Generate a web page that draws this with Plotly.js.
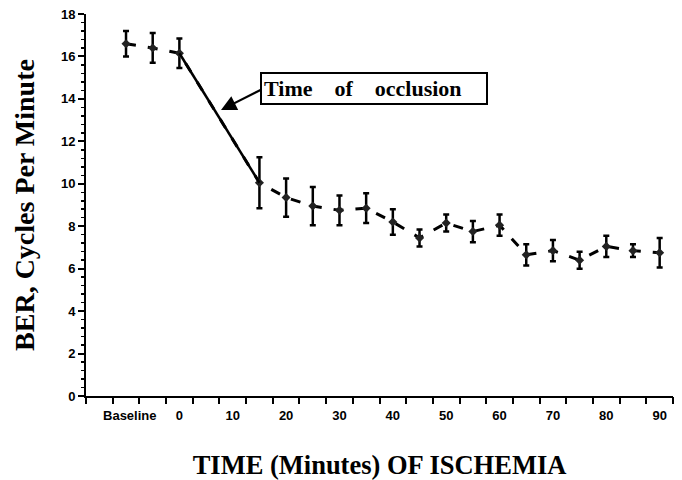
<!DOCTYPE html>
<html>
<head>
<meta charset="utf-8">
<script src="https://cdn.plot.ly/plotly-3.0.1.min.js"></script>
<style>
html,body{margin:0;padding:0;background:#fff;}
#chart{width:682px;height:480px;}
</style>
</head>
<body>
<div id="chart"></div>
<script>
// Time points (minutes); baseline samples placed before 0
const times = [-10, -5, 0, 15, 20, 25, 30, 35, 40, 45, 50, 55, 60, 65, 70, 75, 80, 85, 90];
const ber   = [16.6, 16.4, 16.15, 10.05, 9.35, 8.95, 8.75, 8.85, 8.2, 7.45, 8.15, 7.75, 8.05, 6.65, 6.85, 6.4, 7.05, 6.85, 6.75];
const errs  = [0.6, 0.7, 0.7, 1.2, 0.9, 0.9, 0.7, 0.7, 0.6, 0.4, 0.4, 0.5, 0.5, 0.5, 0.5, 0.4, 0.5, 0.3, 0.7];
const occlusionTimes = [0, 15];
const occlusionBer = [16.15, 10.05];
const tickVals = [-9.3, 0, 10, 20, 30, 40, 50, 60, 70, 80, 90];
const tickText = ["Baseline", "0", "10", "20", "30", "40", "50", "60", "70", "80", "90"];
const slotEdges = [-17.5, -12.5, -7.5, -2.5, 2.5, 7.5, 12.5, 17.5, 22.5, 27.5, 32.5, 37.5, 42.5, 47.5, 52.5, 57.5, 62.5, 67.5, 72.5, 77.5, 82.5, 87.5, 92.5];

const serif = "'Liberation Serif', 'Times New Roman', Times, serif";
const sans = "'Liberation Sans', Arial, Helvetica, sans-serif";
const nb = '\u00A0';

const traces = [
  {
    x: times, y: ber, type: 'scatter', mode: 'lines+markers',
    line: {color: '#000', width: 3, dash: '10px,12px'},
    marker: {symbol: 'diamond', size: 7, color: '#222'},
    error_y: {type: 'data', array: errs, visible: true, color: '#000', thickness: 2.5, width: 3},
    showlegend: false, hoverinfo: 'skip'
  },
  {
    x: occlusionTimes, y: occlusionBer, type: 'scatter', mode: 'lines',
    line: {color: '#000', width: 2.5},
    showlegend: false, hoverinfo: 'skip'
  },
  {
    x: [slotEdges[0]], y: [0], xaxis: 'x2', type: 'scatter', mode: 'markers',
    marker: {opacity: 0}, showlegend: false, hoverinfo: 'skip'
  }
];

const layout = {
  width: 682, height: 480,
  margin: {l: 86, r: 9, t: 14, b: 84},
  paper_bgcolor: '#fff', plot_bgcolor: '#fff',
  showlegend: false,
  xaxis: {
    range: [-17.5, 92.5], showgrid: false, zeroline: false,
    showline: true, linecolor: '#000', linewidth: 2,
    tickmode: 'array', tickvals: tickVals, ticktext: tickText, ticks: '',
    ticklabelstandoff: 6,
    tickfont: {family: sans, size: 13, color: '#000', weight: 'bold'},
    title: {text: 'TIME (Minutes) OF ISCHEMIA', font: {family: serif, size: 26.5, color: '#000', weight: 'bold'}, standoff: 36}
  },
  xaxis2: {
    overlaying: 'x', anchor: 'y', side: 'bottom',
    range: [-17.5, 92.5], showgrid: false, zeroline: false, showline: false,
    tickmode: 'array', tickvals: slotEdges, ticks: 'outside', ticklen: 7, tickwidth: 2, tickcolor: '#000',
    showticklabels: false
  },
  yaxis: {
    range: [0, 18], showgrid: false, zeroline: false,
    showline: true, linecolor: '#000', linewidth: 2,
    tickmode: 'linear', tick0: 0, dtick: 2, ticks: 'outside', ticklen: 6, tickwidth: 2, tickcolor: '#000',
    minor: {ticks: 'outside', dtick: 0.4, tick0: 0, ticklen: 3, tickwidth: 1.5, tickcolor: '#000'},
    tickfont: {family: sans, size: 13, color: '#000', weight: 'bold'},
    title: {text: 'BER, Cycles Per Minute' + nb + nb + nb, font: {family: serif, size: 28, color: '#000', weight: 'bold'}, standoff: 18}
  },
  annotations: [
    {
      x: 36.56, y: 14.49, xref: 'x', yref: 'y', xanchor: 'center', yanchor: 'middle',
      text: 'Time' + nb.repeat(4) + 'of' + nb.repeat(4) + 'occlusion' + nb.repeat(4),
      showarrow: false,
      font: {family: serif, size: 22, color: '#000', weight: 'bold'},
      bgcolor: '#fff', bordercolor: '#000', borderwidth: 2, borderpad: 2
    },
    {
      x: 7.8, y: 13.48, xref: 'x', yref: 'y',
      ax: 15.48, ay: 14.45, axref: 'x', ayref: 'y',
      text: '', showarrow: true, arrowhead: 2, arrowsize: 1.4, arrowwidth: 2.2, arrowcolor: '#000'
    }
  ]
};

Plotly.newPlot('chart', traces, layout, {displayModeBar: false, staticPlot: true});
</script>
</body>
</html>
